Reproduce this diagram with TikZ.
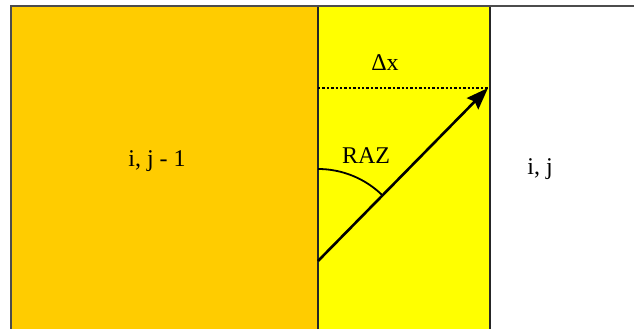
\documentclass[tikz,border=0pt]{standalone}
\usepackage{fontspec}
\setmainfont{Liberation Serif}
\usetikzlibrary{arrows.meta}
\definecolor{cellprev}{RGB}{255,204,0}
\definecolor{cellcur}{RGB}{255,255,0}

\begin{document}
\begin{tikzpicture}[x=1pt, y=1pt,
  lbl/.style={font=\fontsize{24}{27}\selectfont, inner sep=0pt, anchor=base},
  wall/.style={draw=black!85, line width=2pt},
]
  \useasboundingbox (0,0) rectangle (634,329);
  % cells
  \fill[cellprev] (11,0) rectangle (318,323);
  \fill[cellcur] (318,0) rectangle (490,323);
  \draw[wall] (318,0) -- (318,323);
  \draw[wall] (490,0) -- (490,323);
  % frame
  \draw[line width=2.8pt, black!70] (11,0) -- (11,323) -- (634,323);

  % step and angle
  \coordinate (base) at (318,68);
  \coordinate (tip) at (488,241);
  \coordinate (dxl) at (318,241);
  \draw[line width=2.4pt, dotted] (dxl) -- (tip);
  \draw[line width=2.6pt, -{Stealth[length=22pt, width=16pt, inset=3pt]}] (base) -- (tip);
  \draw[line width=1.8pt] (318,160) arc[start angle=90, end angle=45.5, radius=92];

  % labels
  \node[lbl] (dx) at (385,258) {Δx};
  \node[lbl] (raz) at (366,165) {RAZ};
  \node[lbl] (prev) at (157,162) {i, j - 1};
  \node[lbl] (cur) at (540,154) {i, j};
\end{tikzpicture}
\end{document}
